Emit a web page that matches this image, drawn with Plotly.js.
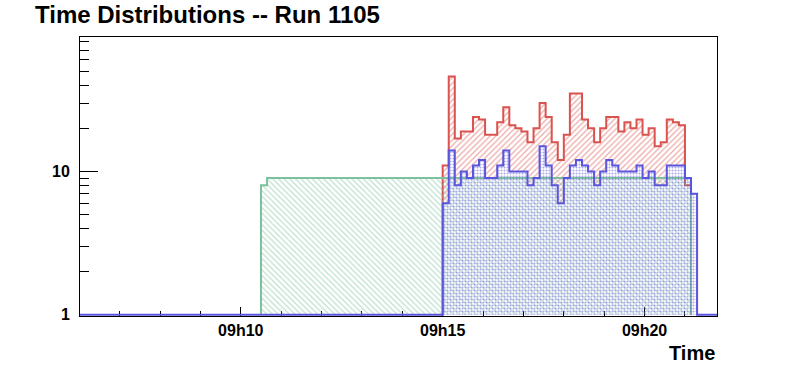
<!DOCTYPE html>
<html>
<head>
<meta charset="utf-8">
<script src="https://cdn.plot.ly/plotly-3.0.1.min.js"></script>
<style>html,body{margin:0;padding:0;background:#fff;}#chart{width:796px;height:372px;}</style>
</head>
<body>
<div id="chart"></div>
<script>
// ---- data (seconds after 09h00) ----
const binWidth = 9;            // seconds per bin
const redStart = 900;          // 09h15:00
const blueStart = 900;
const greenStart = 630;        // 09h10:30
const redCounts = [11,46,17,19,19,24,23,18,18,22,28,21,20,19,16,20,30,24,16,12,18,35,35,23,20,16,20,24,24,19,22,20,23,18,20,15,16,23,22,21,8];
const blueCounts = [6,14,8,10,9,11,12,9,9,11,14,10,10,10,8,9,15,11,8,6,9,11,12,11,10,8,10,12,11,10,10,10,11,9,10,8,8,11,11,11,9,7];
const greenCounts = [8,9,9,9,9,9,9,9,9,9,9,9,9,9,9,9,9,9,9,9,9,9,9,9,9,9,9,9,9,9,
                     9,9,9,9,9,9,9,9,9,9,9,9,9,9,9,9,9,9,9,9,9,9,9,9,9,9,9,9,9,9,9,9,9,9,9,9,9,9,9,9,9];
const tickSeconds = [600, 900, 1200];
const tickLabels = ['09h10', '09h15', '09h20'];
const xRange = [361.1, 1307.6];

const FONT = 'Liberation Sans, Arial, Helvetica, sans-serif';
const yFloor = 1; // empty bins sit on the bottom of the log axis
const val = c => (c > 0 ? c : yFloor);

function stepPoints(start, counts, extend) {
  const xs = [], ys = [];
  if (extend) { xs.push(xRange[0]); ys.push(yFloor); }
  xs.push(start); ys.push(yFloor);
  counts.forEach((c, i) => {
    xs.push(start + i * binWidth); ys.push(val(c));
    xs.push(start + (i + 1) * binWidth); ys.push(val(c));
  });
  xs.push(start + counts.length * binWidth); ys.push(yFloor);
  if (extend) { xs.push(xRange[1]); ys.push(yFloor); }
  return {xs, ys};
}

// band between an upper histogram and a lower histogram sharing the same binning
function bandPoints(start, upper, lower) {
  const xs = [], ys = [];
  upper.forEach((c, i) => {
    const lo = i < lower.length ? val(lower[i]) : yFloor;
    const v = Math.max(val(c), lo);
    xs.push(start + i * binWidth); ys.push(v);
    xs.push(start + (i + 1) * binWidth); ys.push(v);
  });
  for (let i = upper.length - 1; i >= 0; i--) {
    const lo = i < lower.length ? val(lower[i]) : yFloor;
    xs.push(start + (i + 1) * binWidth); ys.push(lo);
    xs.push(start + i * binWidth); ys.push(lo);
  }
  return {xs, ys};
}

function fillTrace(p, color, shape, psize, sol) {
  return {x: p.xs, y: p.ys, type: 'scatter', mode: 'none', fill: 'toself',
          fillcolor: 'rgba(0,0,0,0)',
          fillpattern: {shape: shape, fgcolor: color, bgcolor: 'rgba(0,0,0,0)', size: psize, solidity: sol, fillmode: 'overlay'},
          hoverinfo: 'skip', showlegend: false};
}
function lineTrace(p, color) {
  return {x: p.xs, y: p.ys, type: 'scatter', mode: 'lines',
          line: {color: color, width: 2, shape: 'linear'}, hoverinfo: 'skip', showlegend: false};
}

const red = '#d9534f', green = '#7cc09c', blue = '#5a55dc';
const traces = [
  fillTrace(bandPoints(redStart, redCounts, blueCounts), red, '/', 4, 0.3),
  lineTrace(stepPoints(redStart, redCounts, false), red),
  fillTrace(stepPoints(greenStart, greenCounts, false), green, '\\', 4, 0.3),
  lineTrace(stepPoints(greenStart, greenCounts, false), green),
  fillTrace(stepPoints(blueStart, blueCounts, false), blue, '.', 3, 0.4),
  lineTrace(stepPoints(blueStart, blueCounts, true), blue)
];

const layout = {
  width: 796, height: 372,
  margin: {l: 80, r: 79, t: 37, b: 56},
  paper_bgcolor: '#fff', plot_bgcolor: '#fff',
  showlegend: false,
  title: {text: 'Time Distributions -- Run 1105', x: 35/796, xanchor: 'left', xref: 'container',
          y: 1 - 15/372, yanchor: 'middle', yref: 'container',
          font: {family: FONT, size: 24, color: '#000', weight: 'bold'}},
  xaxis: {range: xRange, tickmode: 'array', tickvals: tickSeconds, ticktext: tickLabels,
          ticks: 'inside', ticklen: 9, tickwidth: 1, tickcolor: '#000',
          showline: true, linecolor: '#000', linewidth: 1, mirror: true,
          showgrid: false, zeroline: false, layer: 'below traces',
          minor: {ticks: 'inside', ticklen: 5, tickwidth: 1, tickcolor: '#000', tickmode: 'linear', tick0: 0, dtick: 60, showgrid: false},
          tickfont: {family: FONT, size: 16, color: '#000', weight: 'bold'}},
  yaxis: {type: 'log', range: [-0.008, 1.9375], tickmode: 'array', tickvals: [1, 10], ticktext: ['1', '10'],
          ticks: 'inside', ticklen: 18, tickwidth: 1, tickcolor: '#000',
          showline: true, linecolor: '#000', linewidth: 1, mirror: true,
          showgrid: false, zeroline: false, layer: 'below traces', ticklabelstandoff: 6,
          minor: {ticks: 'inside', ticklen: 9, tickwidth: 1, tickcolor: '#000', tickmode: 'array',
                  tickvals: [2,3,4,5,6,7,8,9,20,30,40,50,60,70,80], showgrid: false},
          tickfont: {family: FONT, size: 16, color: '#000', weight: 'bold'}},
  annotations: [{text: 'Time', xref: 'paper', yref: 'paper', x: 1, xanchor: 'right',
                 y: -37/279, yanchor: 'middle', showarrow: false,
                 font: {family: FONT, size: 20, color: '#000', weight: 'bold'}}]
};

Plotly.newPlot('chart', traces, layout, {staticPlot: true, displayModeBar: false});
</script>
</body>
</html>
